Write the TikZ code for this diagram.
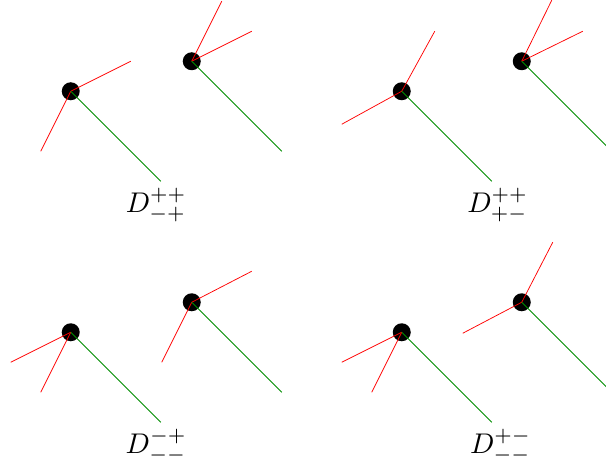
\documentclass[tikz,border=0pt]{standalone}
\usepackage{amsmath}
\usepackage{amssymb}
\usepackage{tikz}
\tikzset{
vertex/.style={circle,fill=black,inner sep=0pt,minimum size=0.6cm},
gluon/.style={red,line width=0.7pt},
scalar/.style={green!55!black,line width=0.8pt},
tag/.style={scale=2.7,inner sep=0pt}
}
\begin{document}
\begin{tikzpicture}
\useasboundingbox(0.0417,-0.025)rectangle(20.2417,15.4417);
\node[vertex](a)at(2.4,12.4){};
\node[vertex](b)at(6.4333,13.4){};
\node[vertex](c)at(13.4333,12.4){};
\node[vertex](d)at(17.4333,13.4){};
\node[vertex](e)at(2.4,4.3667){};
\node[vertex](f)at(6.4333,5.3667){};
\node[vertex](g)at(13.4333,4.3667){};
\node[vertex](h)at(17.4333,5.3667){};
\coordinate(a1)at(4.4,13.4);
\coordinate(a2)at(1.4,10.4);
\coordinate(a3)at(5.4,9.4);
\coordinate(b1)at(7.4333,15.4);
\coordinate(b2)at(8.4333,14.4);
\coordinate(b3)at(9.4333,10.4);
\coordinate(c1)at(14.5333,14.4);
\coordinate(c2)at(11.4333,11.3);
\coordinate(c3)at(16.4333,9.4);
\coordinate(d1)at(18.4333,15.4333);
\coordinate(d2)at(19.4667,14.4);
\coordinate(d3)at(20.4333,10.4);
\coordinate(e1)at(0.4,3.3667);
\coordinate(e2)at(1.4,2.3667);
\coordinate(e3)at(5.4,1.3667);
\coordinate(f1)at(8.4333,6.4);
\coordinate(f2)at(5.4333,3.3667);
\coordinate(f3)at(9.4333,2.3667);
\coordinate(g1)at(11.4333,3.3667);
\coordinate(g2)at(12.4333,2.3667);
\coordinate(g3)at(16.4333,1.3667);
\coordinate(h1)at(18.4667,7.3667);
\coordinate(h2)at(15.4667,4.3333);
\coordinate(h3)at(20.4333,2.3667);
%top left
\draw[gluon](a.center)--(a1);
\draw[gluon](a.center)--(a2);
\draw[scalar](a.center)--(a3);
\draw[gluon](b.center)--(b1);
\draw[gluon](b.center)--(b2);
\draw[scalar](b.center)--(b3);
%top right
\draw[gluon](c.center)--(c1);
\draw[gluon](c.center)--(c2);
\draw[scalar](c.center)--(c3);
\draw[gluon](d.center)--(d1);
\draw[gluon](d.center)--(d2);
\draw[scalar](d.center)--(d3);
%bottom left
\draw[gluon](e.center)--(e1);
\draw[gluon](e.center)--(e2);
\draw[scalar](e.center)--(e3);
\draw[gluon](f.center)--(f1);
\draw[gluon](f.center)--(f2);
\draw[scalar](f.center)--(f3);
%bottom right
\draw[gluon](g.center)--(g1);
\draw[gluon](g.center)--(g2);
\draw[scalar](g.center)--(g3);
\draw[gluon](h.center)--(h1);
\draw[gluon](h.center)--(h2);
\draw[scalar](h.center)--(h3);
\node[tag](t1)at(5.25,8.6){$D^{++}_{-+}$};
\node[tag](t2)at(16.63,8.6){$D^{++}_{+-}$};
\node[tag](t3)at(5.25,0.57){$D^{-+}_{--}$};
\node[tag](t4)at(16.73,0.57){$D^{+-}_{--}$};
\end{tikzpicture}
\end{document}
